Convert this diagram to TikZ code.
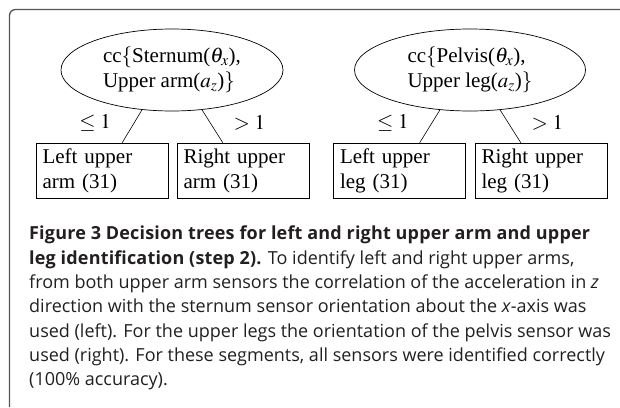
\documentclass[tikz,border=0pt]{standalone}
\usepackage{mathptmx}
\usepackage[no-math]{fontspec}
\setmainfont{Liberation Serif}
\newfontfamily\capfont[BoldFeatures={LetterSpace=1.0}]{Open Sans}
\usetikzlibrary{shapes.geometric}
\definecolor{framegray}{HTML}{555555}
\definecolor{captext}{HTML}{231F20}
\newcommand{\treefont}{\fontsize{21}{25}\selectfont}

\begin{document}
\begin{tikzpicture}[x=1pt, y=-1pt,
  split/.style={ellipse, draw, line width=0.7pt, inner sep=0pt,
    minimum width=222pt, minimum height=82pt, align=left, font=\treefont},
  leaf/.style={rectangle, draw, line width=0.7pt, minimum height=55pt,
    inner xsep=6.5pt, text width=119pt, align=left, font=\treefont},
  cond/.style={inner sep=0pt, font=\treefont, yshift=3pt}]

\useasboundingbox (0,0) rectangle (620,407);
\draw[framegray, line width=1.3pt, rounded corners=6pt] (9.5,407) -- (9.5,9.5) -- (620,9.5);

% left tree: upper arms
\node[split] (sternum) at (172,70) {cc$\{$Sternum($\theta_x$),\\Upper arm($a_z$)$\}$};
\node[leaf] (larm) at (102,170.5) {Left upper\\arm (31)};
\node[leaf] (rarm) at (243,170.5) {Right upper\\arm (31)};
\draw[line width=0.6pt] (sternum.233) -- node[cond, left=21pt] {$\leq 1$} (larm.54);
\draw[line width=0.6pt] (sternum.307) -- node[cond, right=21pt] {$> 1$} (rarm.126);

% right tree: upper legs
\node[split, minimum width=231pt] (pelvis) at (470,70) {cc$\{$Pelvis($\theta_x$),\\Upper leg($a_z$)$\}$};
\node[leaf] (lleg) at (399.5,170.5) {Left upper\\leg (31)};
\node[leaf] (rleg) at (541,170.5) {Right upper\\leg (31)};
\draw[line width=0.6pt] (pelvis.233) -- node[cond, left=21pt] {$\leq 1$} (lleg.54);
\draw[line width=0.6pt] (pelvis.307) -- node[cond, right=21pt] {$> 1$} (rleg.126);

% caption
\node[anchor=north west, inner sep=0pt, align=left, text=captext,
  font=\capfont\fontsize{18}{24.3}\selectfont] (caption) at (29,226)
  {\textbf{Figure 3 Decision trees for left and right upper arm and upper}\\
   \textbf{leg identification (step 2).} To identify left and right upper arms,\\
   from both upper arm sensors the correlation of the acceleration in \textit{z}\\
   direction with the sternum sensor orientation about the \textit{x}-axis was\\
   used (left). For the upper legs the orientation of the pelvis sensor was\\
   used (right). For these segments, all sensors were identified correctly\\
   (100\% accuracy).};

\end{tikzpicture}
\end{document}
